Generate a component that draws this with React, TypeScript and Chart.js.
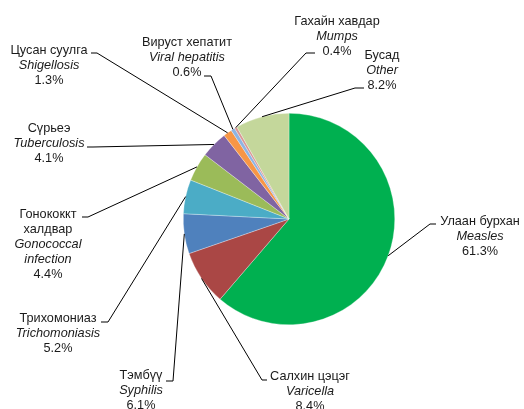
import React, { useEffect, useRef } from "react";
import { Chart, registerables } from "chart.js";

Chart.register(...registerables);

const namesMn = [
  "Улаан бурхан",
  "Салхин цэцэг",
  "Тэмбүү",
  "Трихомониаз",
  "Гонококкт\nхалдвар",
  "Сүрьеэ",
  "Цусан суулга",
  "Вируст хепатит",
  "Гахайн хавдар",
  "Бусад",
];
const namesEn = [
  "Measles",
  "Varicella",
  "Syphilis",
  "Trichomoniasis",
  "Gonococcal\ninfection",
  "Tuberculosis",
  "Shigellosis",
  "Viral hepatitis",
  "Mumps",
  "Other",
];
const shares = [61.3, 8.4, 6.1, 5.2, 4.4, 4.1, 1.3, 0.6, 0.4, 8.2];
const colors = [
  "#00B050",
  "#AA4745",
  "#4F81BD",
  "#4BACC6",
  "#9BBB59",
  "#8064A2",
  "#F79646",
  "#8EB4E3",
  "#D99795",
  "#C4D79B",
];

// label layout: text centre x, first line centre y, elbow point, end of horizontal tick
const labelLayout = [
  { cx: 480, ty: 221, ex: 430, ey: 224, hx: 436 },
  { cx: 310, ty: 376, ex: 262, ey: 380, hx: 267 },
  { cx: 141, ty: 375, ex: 173, ey: 381, hx: 166 },
  { cx: 58, ty: 318, ex: 108, ey: 322, hx: 101 },
  { cx: 48, ty: 214, ex: 88, ey: 217, hx: 82 },
  { cx: 49, ty: 128, ex: 93, ey: 147, hx: 87 },
  { cx: 49, ty: 50, ex: 97, ey: 53, hx: 91 },
  { cx: 187, ty: 42, ex: 211, ey: 76, hx: 204 },
  { cx: 337, ty: 21, ex: 306, ey: 53, hx: 315 },
  { cx: 382, ty: 55, ex: 355, ey: 88, hx: 364 },
];

const FONT = "'Liberation Sans', Arial, sans-serif";
const FS = 12.7;
const LH = 15.2;

const labelPlugin = {
  id: "pieLabels",
  afterDatasetsDraw(chart: any) {
    const ctx = chart.ctx as CanvasRenderingContext2D;
    const meta = chart.getDatasetMeta(0);
    ctx.save();
    meta.data.forEach((arc: any, i: number) => {
      const L = labelLayout[i];
      if (!L) return;
      const mid = (arc.startAngle + arc.endAngle) / 2;
      const px = arc.x + Math.cos(mid) * arc.outerRadius;
      const py = arc.y + Math.sin(mid) * arc.outerRadius;
      ctx.strokeStyle = "#000";
      ctx.lineWidth = 1;
      ctx.beginPath();
      ctx.moveTo(px, py);
      ctx.lineTo(L.ex, L.ey);
      ctx.lineTo(L.hx, L.ey);
      ctx.stroke();

      const lines: { t: string; it: boolean }[] = [];
      namesMn[i].split("\n").forEach((t) => lines.push({ t, it: false }));
      namesEn[i].split("\n").forEach((t) => lines.push({ t, it: true }));
      lines.push({ t: shares[i].toFixed(1) + "%", it: false });
      ctx.fillStyle = "#1a1a1a";
      ctx.textAlign = "center";
      ctx.textBaseline = "middle";
      lines.forEach((ln, k) => {
        ctx.font = (ln.it ? "italic " : "") + FS + "px " + FONT;
        ctx.fillText(ln.t, L.cx, L.ty + k * LH);
      });
    });
    ctx.restore();
  },
};

export default function App() {
  const ref = useRef<HTMLCanvasElement | null>(null);
  useEffect(() => {
    if (!ref.current) return;
    const chart = new Chart(ref.current, {
      type: "pie",
      data: {
        labels: namesEn,
        datasets: [
          {
            data: shares,
            backgroundColor: colors,
            borderColor: "rgba(255,255,255,0.6)",
            borderWidth: 0.5,
          },
        ],
      },
      options: {
        responsive: false,
        animation: false,
        layout: { padding: { left: 183, right: 129, top: 113, bottom: 84 } },
        plugins: {
          legend: { display: false },
          tooltip: { enabled: false },
        },
      },
      plugins: [labelPlugin],
    });
    return () => chart.destroy();
  }, []);
  return (
    <div style={{ position: "fixed", left: 0, top: 0, width: 524, height: 409, background: "#fff" }}>
      <canvas ref={ref} width={524} height={409} />
    </div>
  );
}
